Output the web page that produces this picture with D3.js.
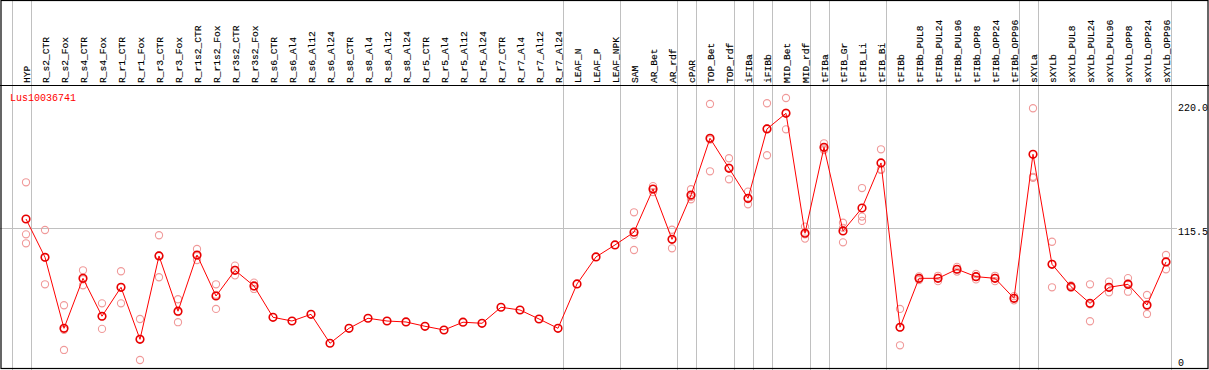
<!DOCTYPE html>
<html><head><meta charset="utf-8">
<script src="https://cdn.jsdelivr.net/npm/d3@7"></script>
<style>html,body{margin:0;padding:0;background:#fff;}svg{display:block;}</style>
</head><body>
<svg id="c" width="1209" height="370"></svg>
<script>
const title = "Lus10036741";
const categories = ["HYP","R_s2_CTR","R_s2_Fox","R_s4_CTR","R_s4_Fox","R_r1_CTR","R_r1_Fox","R_r3_CTR","R_r3_Fox","R_r1s2_CTR","R_r1s2_Fox","R_r3s2_CTR","R_r3s2_Fox","R_s6_CTR","R_s6_Al4","R_s6_Al12","R_s6_Al24","R_s8_CTR","R_s8_Al4","R_s8_Al12","R_s8_Al24","R_r5_CTR","R_r5_Al4","R_r5_Al12","R_r5_Al24","R_r7_CTR","R_r7_Al4","R_r7_Al12","R_r7_Al24","LEAF_N","LEAF_P","LEAF_NPK","SAM","AR_Bet","AR_rdf","cPAR","TOP_Bet","TOP_rdf","iFIBa","iFIBb","MID_Bet","MID_rdf","tFIBa","tFIB_Gr","tFIB_Li","tFIB_Bi","tFIBb","tFIBb_PUL8","tFIBb_PUL24","tFIBb_PUL96","tFIBb_OPP8","tFIBb_OPP24","tFIBb_OPP96","sXYLa","sXYLb","sXYLb_PUL8","sXYLb_PUL24","sXYLb_PUL96","sXYLb_OPP8","sXYLb_OPP24","sXYLb_OPP96"];
const meanValues = [123.0,91.0,31.6,73.4,41.7,65.9,22.4,92.1,45.9,92.9,58.6,80.1,67.0,40.8,37.7,43.3,19.1,31.6,40.0,37.7,36.9,33.3,30.2,36.7,35.8,49.2,46.9,39.4,31.6,68.7,91.3,101.3,112.0,148.0,106.0,143.0,190.5,165.4,140.3,198.3,211.4,111.1,183.0,113.0,132.2,169.9,32.5,73.4,73.4,81.0,74.8,73.4,56.7,177.1,85.1,66.4,52.5,65.9,68.4,51.1,87.1];
const replicateValues = [
  [153.7,110.2,102.7],[113.8,68.4,90.8],[50.9,13.5,30.4],[80.1,67.6,72.5],[52.5,31.1,41.5],
  [79.3,52.5,65.9],[39.4,5.1,22.7],[109.4,74.3,92.6],[55.9,36.7,45.1],[97.9,88.7,92.1],
  [68.4,47.8,59.6],[84.0,75.9,80.4],[69.8,64.5,66.7],
  [],[],[],[],[],[],[],[],[],[],[],[],[],[],[],[],[],[],[],
  [128.6,109.6,97.1],[150.5,145.5,148.0],[114.0,106.0,98.5],[147.9,141.6,139.5],
  [219.2,162.9,189.5],[173.8,156.2,166.0],[145.9,135.3,139.7],[219.8,176.3,198.8],
  [224.2,198.0,212.0],[116.6,106.6,110.1],[186.3,180.7,182.0],[119.9,103.5,115.6],
  [148.9,125.0,121.4],[181.3,164.5,164.0],[47.8,17.4,32.3],[75.0,72.0,73.0],
  [75.5,71.0,73.7],[83.0,79.0,81.0],[77.0,72.5,75.0],[75.5,71.0,73.7],[58.5,55.0,56.6],
  [215.6,158.3,157.4],[104.0,65.9,85.4],[67.5,65.5,66.2],[68.4,37.5,51.6],[70.6,61.7,65.4],
  [73.6,62.2,69.4],[59.5,43.6,50.2],[92.9,81.0,87.4]
];
const groupStarts = ["HYP","R_s2_CTR","LEAF_N","SAM","cPAR","TOP_Bet","iFIBa","iFIBb","MID_Bet","tFIBa","tFIB_Gr","tFIBb","sXYLa","sXYLb"];
const yTicks = [220.0, 115.5, 0];
const yTickLabels = ["220.0", "115.5", "0"];

const W = 1209, H = 370;
const svg = d3.select("#c");
const font = "'Liberation Mono', 'DejaVu Sans Mono', monospace";

const x = d3.scalePoint().domain(categories).range([26, 1166]);
const step = x.step();
const y = d3.scaleLinear().domain([0, 220]).range([366.1, 103]);

// separators
const sepX = groupStarts.map(c => x(c) - step + 4.5).concat([x(categories[categories.length-1]) + 4.5]);
svg.append("g").selectAll("line").data(sepX).join("line")
  .attr("x1", d => Math.round(d) + 0.5).attr("x2", d => Math.round(d) + 0.5)
  .attr("y1", 0).attr("y2", H)
  .attr("stroke", "#c0c0c0").attr("stroke-width", 1);

// horizontal gridline at middle tick
svg.append("line").attr("x1", 0).attr("x2", 1177)
  .attr("y1", Math.round(y(yTicks[1])) + 0.5).attr("y2", Math.round(y(yTicks[1])) + 0.5)
  .attr("stroke", "#c0c0c0").attr("stroke-width", 1);

// frame
svg.append("rect").attr("x", 1).attr("y", 0.5).attr("width", 1207).attr("height", 368)
  .attr("fill", "none").attr("stroke", "#000").attr("stroke-width", 1.2);
svg.append("line").attr("x1", 0).attr("x2", W).attr("y1", 85.5).attr("y2", 85.5)
  .attr("stroke", "#000").attr("stroke-width", 1.2);

// category labels
svg.append("g").selectAll("text").data(categories).join("text")
  .attr("transform", d => `translate(${x(d) + 4},83) rotate(-90)`)
  .attr("text-anchor", "start")
  .attr("font-family", font).attr("font-size", 9.6).attr("fill", "#000")
  .attr("stroke", "#000").attr("stroke-width", 0.15)
  .text(d => d);

// title
svg.append("text").attr("x", 10).attr("y", 100.5)
  .attr("font-family", font).attr("font-size", 10).attr("fill", "#ff0000")
  .text(title);

// y tick labels
svg.append("g").selectAll("text").data(yTicks).join("text")
  .attr("x", 1178)
  .attr("y", d => Math.min(y(d), 358.5) + 7.5)
  .attr("font-family", font).attr("font-size", 10).attr("fill", "#000")
  .text((d, i) => yTickLabels[i]);

// replicate points
const reps = [];
replicateValues.forEach((arr, i) => arr.forEach(v => reps.push({c: categories[i], v})));
svg.append("g").selectAll("circle").data(reps).join("circle")
  .attr("cx", d => x(d.c)).attr("cy", d => y(d.v)).attr("r", 3.6)
  .attr("fill", "none").attr("stroke", "#f09a9a").attr("stroke-width", 1.1);

// main line
const pts = categories.map((c, i) => ({c, v: meanValues[i]}));
svg.append("path").datum(pts)
  .attr("d", d3.line().x(d => x(d.c)).y(d => y(d.v)))
  .attr("fill", "none").attr("stroke", "#ff0000").attr("stroke-width", 1);

svg.append("g").selectAll("circle").data(pts).join("circle")
  .attr("cx", d => x(d.c)).attr("cy", d => y(d.v)).attr("r", 3.8)
  .attr("fill", "none").attr("stroke", "#e80000").attr("stroke-width", 1.6);
</script>
</body></html>
